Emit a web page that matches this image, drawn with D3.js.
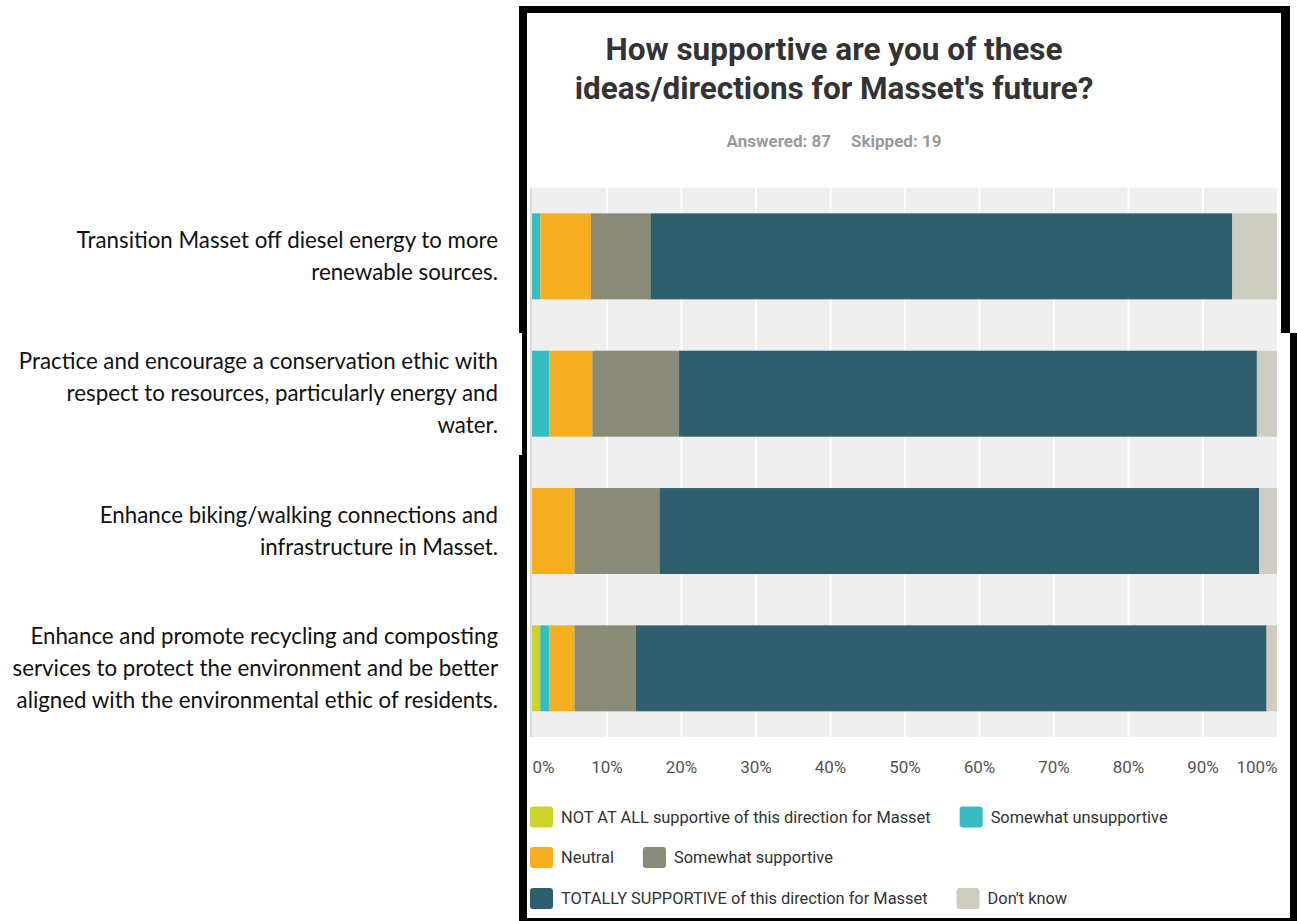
<!DOCTYPE html>
<html>
<head>
<meta charset="utf-8">
<script src="https://cdn.jsdelivr.net/npm/d3@7"></script>
<style>
  html, body { margin: 0; padding: 0; background: #fff; }
  svg { display: block; }
</style>
</head>
<body>
<svg id="chart" width="1297" height="921"></svg>
<script>
// ---------------- DATA ----------------
const categories = [
  "Transition Masset off diesel energy to more\nrenewable sources.",
  "Practice and encourage a conservation ethic with\nrespect to resources, particularly energy and\nwater.",
  "Enhance biking/walking connections and\ninfrastructure in Masset.",
  "Enhance and promote recycling and composting\nservices to protect the environment and be better\naligned with the environmental ethic of residents."
];
const seriesNames = [
  "NOT AT ALL supportive of this direction for Masset",
  "Somewhat unsupportive",
  "Neutral",
  "Somewhat supportive",
  "TOTALLY SUPPORTIVE of this direction for Masset",
  "Don't know"
];
const seriesColors = ["#cdd32b", "#35bdc2", "#f6ae21", "#898a78", "#2f5f6d", "#cfcdbf"];
// percentages per category (same order as categories)
const notAtAll             = [0,    0,    0,    1.1];
const somewhatUnsupportive = [1.1,  2.3,  0,    1.2];
const neutral              = [6.8,  5.8,  5.7,  3.4];
const somewhatSupportive   = [8.0,  11.6, 11.4, 8.2];
const totallySupportive    = [78.1, 77.6, 80.5, 84.7];
const dontKnow             = [6.0,  2.7,  2.4,  1.4];
const tickValues = [0, 10, 20, 30, 40, 50, 60, 70, 80, 90, 100];
const titleLines = ["How supportive are you of these", "ideas/directions for Masset's future?"];
const answeredText = "Answered: 87";
const skippedText = "Skipped: 19";

// ---------------- BUILD ----------------
const seriesValues = [notAtAll, somewhatUnsupportive, neutral, somewhatSupportive, totallySupportive, dontKnow];
const rows = categories.map((c, i) => {
  const r = { category: c };
  seriesNames.forEach((s, j) => r[s] = seriesValues[j][i]);
  return r;
});
const stacked = d3.stack().keys(seriesNames)(rows);

const svg = d3.select("#chart");
const plot = { left: 532, right: 1277, top: 187.7, bottom: 737 };

const x = d3.scaleLinear().domain([0, 100]).range([plot.left, plot.right]);
const y = d3.scaleBand().domain(categories).range([plot.top, plot.bottom])
  .paddingInner(0.374).paddingOuter(0.187);
const color = d3.scaleOrdinal().domain(seriesNames).range(seriesColors);

// frame (screenshot border)
const frame = svg.append("g");
frame.append("rect").attr("x", 519).attr("y", 6).attr("width", 771).attr("height", 7).attr("fill", "#000");
frame.append("rect").attr("x", 519).attr("y", 6).attr("width", 8).attr("height", 915).attr("fill", "#000");
frame.append("rect").attr("x", 519).attr("y", 333).attr("width", 3).attr("height", 122).attr("fill", "#fff");
frame.append("rect").attr("x", 1281).attr("y", 6).attr("width", 9).attr("height", 327).attr("fill", "#000");
frame.append("rect").attr("x", 1290).attr("y", 333).attr("width", 7).attr("height", 588).attr("fill", "#000");
frame.append("rect").attr("x", 519).attr("y", 918).attr("width", 778).attr("height", 3).attr("fill", "#000");

// title
const title = svg.append("text")
  .attr("x", 834).attr("y", 60)
  .attr("text-anchor", "middle")
  .style("font-family", "Roboto, 'Liberation Sans', Arial, sans-serif")
  .style("font-weight", "700")
  .style("font-size", "31.5px")
  .style("fill", "#333");
titleLines.forEach((t, i) => {
  title.append("tspan").attr("x", 834).attr("dy", i === 0 ? 0 : 39).text(t);
});

// subtitle
const subStyle = sel => sel
  .style("font-family", "Roboto, 'Liberation Sans', Arial, sans-serif")
  .style("font-weight", "700").style("font-size", "17px").style("fill", "#9a9a9a");
svg.append("text").attr("x", 831).attr("y", 147).attr("text-anchor", "end")
  .call(subStyle).text(answeredText);
svg.append("text").attr("x", 851).attr("y", 147).attr("text-anchor", "start")
  .call(subStyle).text(skippedText);

// plot background
svg.append("rect")
  .attr("x", plot.left).attr("y", plot.top)
  .attr("width", plot.right - plot.left).attr("height", plot.bottom - plot.top)
  .attr("fill", "#efefef");

// grid lines
const grid = svg.append("g")
  .attr("transform", `translate(0,${plot.bottom})`)
  .call(d3.axisBottom(x).tickValues(tickValues.slice(1, -1))
    .tickSize(-(plot.bottom - plot.top)).tickFormat(""));
grid.select(".domain").remove();
grid.selectAll("line").attr("stroke", "#fff").attr("stroke-width", 2);

// left axis line
svg.append("line")
  .attr("x1", plot.left - 1).attr("x2", plot.left - 1)
  .attr("y1", plot.top).attr("y2", plot.bottom)
  .attr("stroke", "#cfcfcf").attr("stroke-width", 1.5);

// bars
svg.append("g").selectAll("g").data(stacked).join("g")
  .attr("fill", d => color(d.key))
  .selectAll("rect").data(d => d).join("rect")
  .attr("x", d => x(d[0]))
  .attr("y", d => y(d.data.category))
  .attr("width", d => x(d[1]) - x(d[0]))
  .attr("height", y.bandwidth());

// x axis labels
const xAxis = svg.append("g")
  .attr("transform", `translate(0,${plot.bottom})`)
  .call(d3.axisBottom(x).tickValues(tickValues).tickSize(0).tickPadding(24)
    .tickFormat(d => d + "%"));
xAxis.select(".domain").remove();
xAxis.selectAll("text")
  .style("font-family", "Roboto, 'Liberation Sans', Arial, sans-serif")
  .style("font-size", "17px")
  .style("fill", "#555")
  .attr("text-anchor", d => d === 0 ? "start" : (d === 100 ? "end" : "middle"));

// category labels (left)
const labelG = svg.append("g");
categories.forEach(c => {
  const lines = c.split("\n");
  const lh = 32;
  const cy = y(c) + y.bandwidth() / 2;
  const t = labelG.append("text")
    .attr("x", 498)
    .attr("y", cy - (lines.length - 1) * lh / 2)
    .attr("text-anchor", "end")
    .style("font-family", "Lato, 'Open Sans', sans-serif")
    .style("font-size", "22.3px")
    .style("fill", "#111");
  lines.forEach((l, i) => {
    t.append("tspan").attr("x", 498).attr("dy", i === 0 ? "0.35em" : lh).text(l);
  });
});

// legend (two items per row, flowing)
const legend = svg.append("g");
const legRowY = [817, 857.5, 898.5];
const sw = 23, sh = 21, gapText = 8, gapItem = 29;
let curX = 530;
seriesNames.forEach((s, i) => {
  const row = Math.floor(i / 2);
  if (i % 2 === 0) curX = 530;
  const g = legend.append("g");
  g.append("rect")
    .attr("x", curX).attr("y", legRowY[row] - sh / 2)
    .attr("width", sw).attr("height", sh).attr("rx", 3)
    .attr("fill", color(s));
  const tx = g.append("text")
    .attr("x", curX + sw + gapText).attr("y", legRowY[row])
    .attr("dy", "0.35em")
    .style("font-family", "Roboto, 'Liberation Sans', Arial, sans-serif")
    .style("font-size", "16.4px")
    .style("fill", "#333")
    .text(s);
  curX = curX + sw + gapText + tx.node().getComputedTextLength() + gapItem;
});
</script>
</body>
</html>
